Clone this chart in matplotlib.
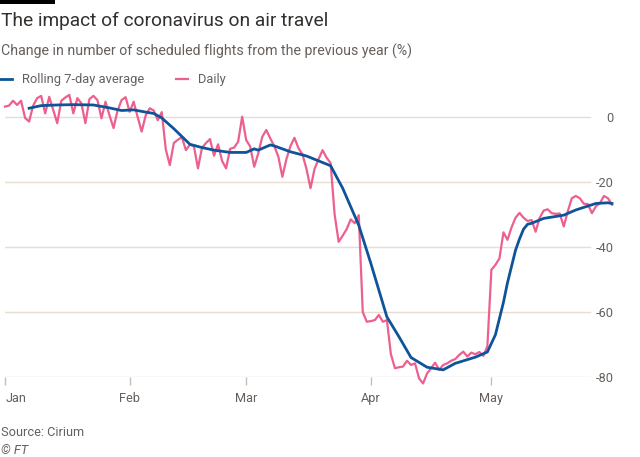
import matplotlib
matplotlib.use("Agg")
import matplotlib.pyplot as plt
import matplotlib.transforms as mtransforms
from matplotlib.patches import Rectangle
import pandas as pd

# ---------------- data ----------------
start_date = "2020-01-01"
daily_values = [
    3.2, 3.5, 5.0, 3.7, 5.0, -0.3, -1.4, 3.5, 5.8, 6.5,
    1.1, 6.2, 2.2, -1.9, 5.0, 6.0, 6.8, 1.1, 5.8, 4.2,
    -1.9, 5.5, 6.5, 5.2, -0.4, 4.7, 0.5, -3.4, 2.0, 5.2,
    6.1, 1.6, 4.7, 0.0, -4.5, 0.5, 2.7, 2.0, -1.0, 1.5,
    -10.0, -14.8, -8.0, -7.0, -6.2, -10.2, -8.5, -9.0, -15.8, -9.5,
    -8.0, -6.8, -11.9, -8.4, -13.5, -15.8, -9.8, -9.4, -7.6, 0.1,
    -7.1, -9.1, -15.3, -11.2, -6.1, -4.0, -6.6, -9.0, -12.2, -18.4,
    -13.0, -9.0, -6.4, -9.6, -11.5, -16.0, -21.9, -16.0, -13.0, -10.2,
    -12.5, -14.2, -30.0, -38.4, -36.5, -34.5, -31.5, -32.7, -30.2, -60.0,
    -63.0, -62.8, -62.5, -60.9, -63.0, -62.5, -73.0, -77.3, -77.0, -76.8,
    -75.0, -76.3, -75.8, -80.4, -82.0, -78.9, -77.3, -75.6, -77.8, -76.3,
    -75.8, -75.0, -74.5, -73.2, -72.2, -73.7, -72.5, -73.0, -72.3, -73.5,
    -70.5, -47.0, -45.5, -43.5, -35.5, -37.8, -34.0, -31.0, -29.5, -31.0,
    -32.0, -31.7, -35.3, -31.0, -28.8, -28.4, -29.6, -29.8, -29.7, -33.7,
    -29.0, -25.0, -24.3, -25.0, -26.7, -26.8, -29.6, -27.5, -26.5, -24.3,
    -25.0, -27.0,
]

rolling_dates = [
    "2020-01-07", "2020-01-10", "2020-01-14", "2020-01-18", "2020-01-23",
    "2020-01-27", "2020-01-30", "2020-02-02", "2020-02-05", "2020-02-07",
    "2020-02-09", "2020-02-12", "2020-02-14", "2020-02-16", "2020-02-19",
    "2020-02-22", "2020-02-26", "2020-03-01", "2020-03-03", "2020-03-04",
    "2020-03-07", "2020-03-08", "2020-03-12", "2020-03-16", "2020-03-19",
    "2020-03-22", "2020-03-25", "2020-03-29", "2020-04-01", "2020-04-05",
    "2020-04-08", "2020-04-11", "2020-04-13", "2020-04-15", "2020-04-19",
    "2020-04-22", "2020-04-27", "2020-04-30", "2020-05-02", "2020-05-03",
    "2020-05-04", "2020-05-05", "2020-05-06", "2020-05-07", "2020-05-08",
    "2020-05-09", "2020-05-10", "2020-05-11", "2020-05-14", "2020-05-19",
    "2020-05-22", "2020-05-27", "2020-05-30", "2020-05-31",
]
rolling_values = [
    2.7, 3.5, 3.7, 3.8, 3.7,
    2.8, 2.0, 2.2, 1.5, 1.1,
    -0.3, -3.6, -6.0, -8.4, -9.4,
    -10.2, -10.9, -10.9, -9.8, -10.2,
    -8.6, -8.9, -10.7, -12.0, -13.5,
    -15.0, -21.9, -33.3, -45.0, -61.5,
    -67.6, -74.0, -75.5, -77.0, -77.8,
    -75.8, -73.9, -72.3, -67.0, -62.0,
    -57.0, -51.0, -46.0, -41.0, -37.5,
    -34.5, -33.0, -32.7, -31.2, -30.2,
    -28.6, -26.6, -26.4, -26.6,
]

month_ticks = ["2020-01-01", "2020-02-01", "2020-03-01", "2020-04-01", "2020-05-01"]
month_labels = ["Jan", "Feb", "Mar", "Apr", "May"]
y_ticks = [0, -20, -40, -60, -80]
y_labels = ["0", "-20", "-40", "-60", "-80"]

title = "The impact of coronavirus on air travel"
subtitle = "Change in number of scheduled flights from the previous year (%)"
legend_labels = ["Rolling 7-day average", "Daily"]
source = "Source: Cirium"
credit = "\u00a9 FT"

# ---------------- style ----------------
FONT = "Roboto"
plt.rcParams["font.family"] = [FONT, "DejaVu Sans"]
BLUE = "#0f5499"
PINK = "#ec5f8f"
GRID = "#e7ddd3"
TICK = "#c9bfb5"
GREY = "#66605c"
DARK = "#33302e"

W, H = 640, 457
fig = plt.figure(figsize=(W / 100, H / 100), dpi=100)
fig.patch.set_facecolor("white")

def fx(px):
    return px / W

def fy(py):
    return 1 - py / H

# axes: Jan 1 at x=5, May 31 at x=612 ; -80 at y=377, +10 at y=84.5
ax_left, ax_right = 5, 612
ax_top, ax_bottom = 84.5, 377
ax = fig.add_axes([fx(ax_left), fy(ax_bottom), fx(ax_right - ax_left), (ax_bottom - ax_top) / H])
ax.set_facecolor("none")

daily_dates = pd.date_range(start_date, periods=len(daily_values), freq="D")
roll_dates = pd.to_datetime(rolling_dates)

ax.plot(daily_dates, daily_values, color=PINK, lw=1.6, solid_joinstyle="round",
        clip_on=False, zorder=3, label=legend_labels[1])
ax.plot(roll_dates, rolling_values, color=BLUE, lw=2.0, solid_joinstyle="round",
        clip_on=False, zorder=4, label=legend_labels[0])

ax.set_xlim(daily_dates[0], daily_dates[-1])
ax.set_ylim(-80, 10)

for s in ax.spines.values():
    s.set_visible(False)

# gridlines ending before the right-hand labels
grid_end = (590 - ax_left) / (ax_right - ax_left)
for v in y_ticks:
    ax.axhline(v, xmin=0, xmax=grid_end, color=GRID, lw=1.0, zorder=1)

# y tick labels on the right, inside
ax.yaxis.tick_right()
ax.set_yticks(y_ticks)
ax.set_yticklabels(y_labels)
ax.tick_params(axis="y", length=0, pad=1, labelsize=9.2, labelcolor=GREY)
for lab in ax.get_yticklabels():
    lab.set_horizontalalignment("right")

# x ticks
ax.set_xticks(pd.to_datetime(month_ticks))
ax.set_xticklabels(month_labels)
ax.tick_params(axis="x", direction="out", length=6, width=1.0, color=TICK,
               pad=5, labelsize=9.2, labelcolor=GREY)
xlabs = ax.get_xticklabels()
for lab in xlabs:
    lab.set_horizontalalignment("center")
offset = mtransforms.ScaledTranslation(1 / 100, 0, fig.dpi_scale_trans)
xlabs[0].set_horizontalalignment("left")
xlabs[0].set_transform(xlabs[0].get_transform() + offset)

# top black bar
fig.patches.append(Rectangle((0, fy(4)), fx(55), 4 / H, transform=fig.transFigure,
                             facecolor="black", edgecolor="none"))

fig.text(fx(1), fy(21), title, fontsize=13.8, color=DARK, va="center", ha="left")
fig.text(fx(1), fy(51), subtitle, fontsize=10.2, color=GREY, va="center", ha="left")

handles, labels = ax.get_legend_handles_labels()
order = [1, 0]
fig.legend([handles[i] for i in order], [labels[i] for i in order],
           loc="center left", bbox_to_anchor=(fx(-5), fy(80)), ncol=2,
           frameon=False, handlelength=0.95, handletextpad=0.75, columnspacing=2.45,
           fontsize=9.3, labelcolor=GREY, borderaxespad=0)

fig.text(fx(1), fy(433), source, fontsize=9.2, color=GREY, va="center", ha="left")
fig.text(fx(1), fy(450), credit, fontsize=9.2, color=GREY, va="center", ha="left",
         style="italic")

fig.savefig("out.png", dpi=100, facecolor="white")
